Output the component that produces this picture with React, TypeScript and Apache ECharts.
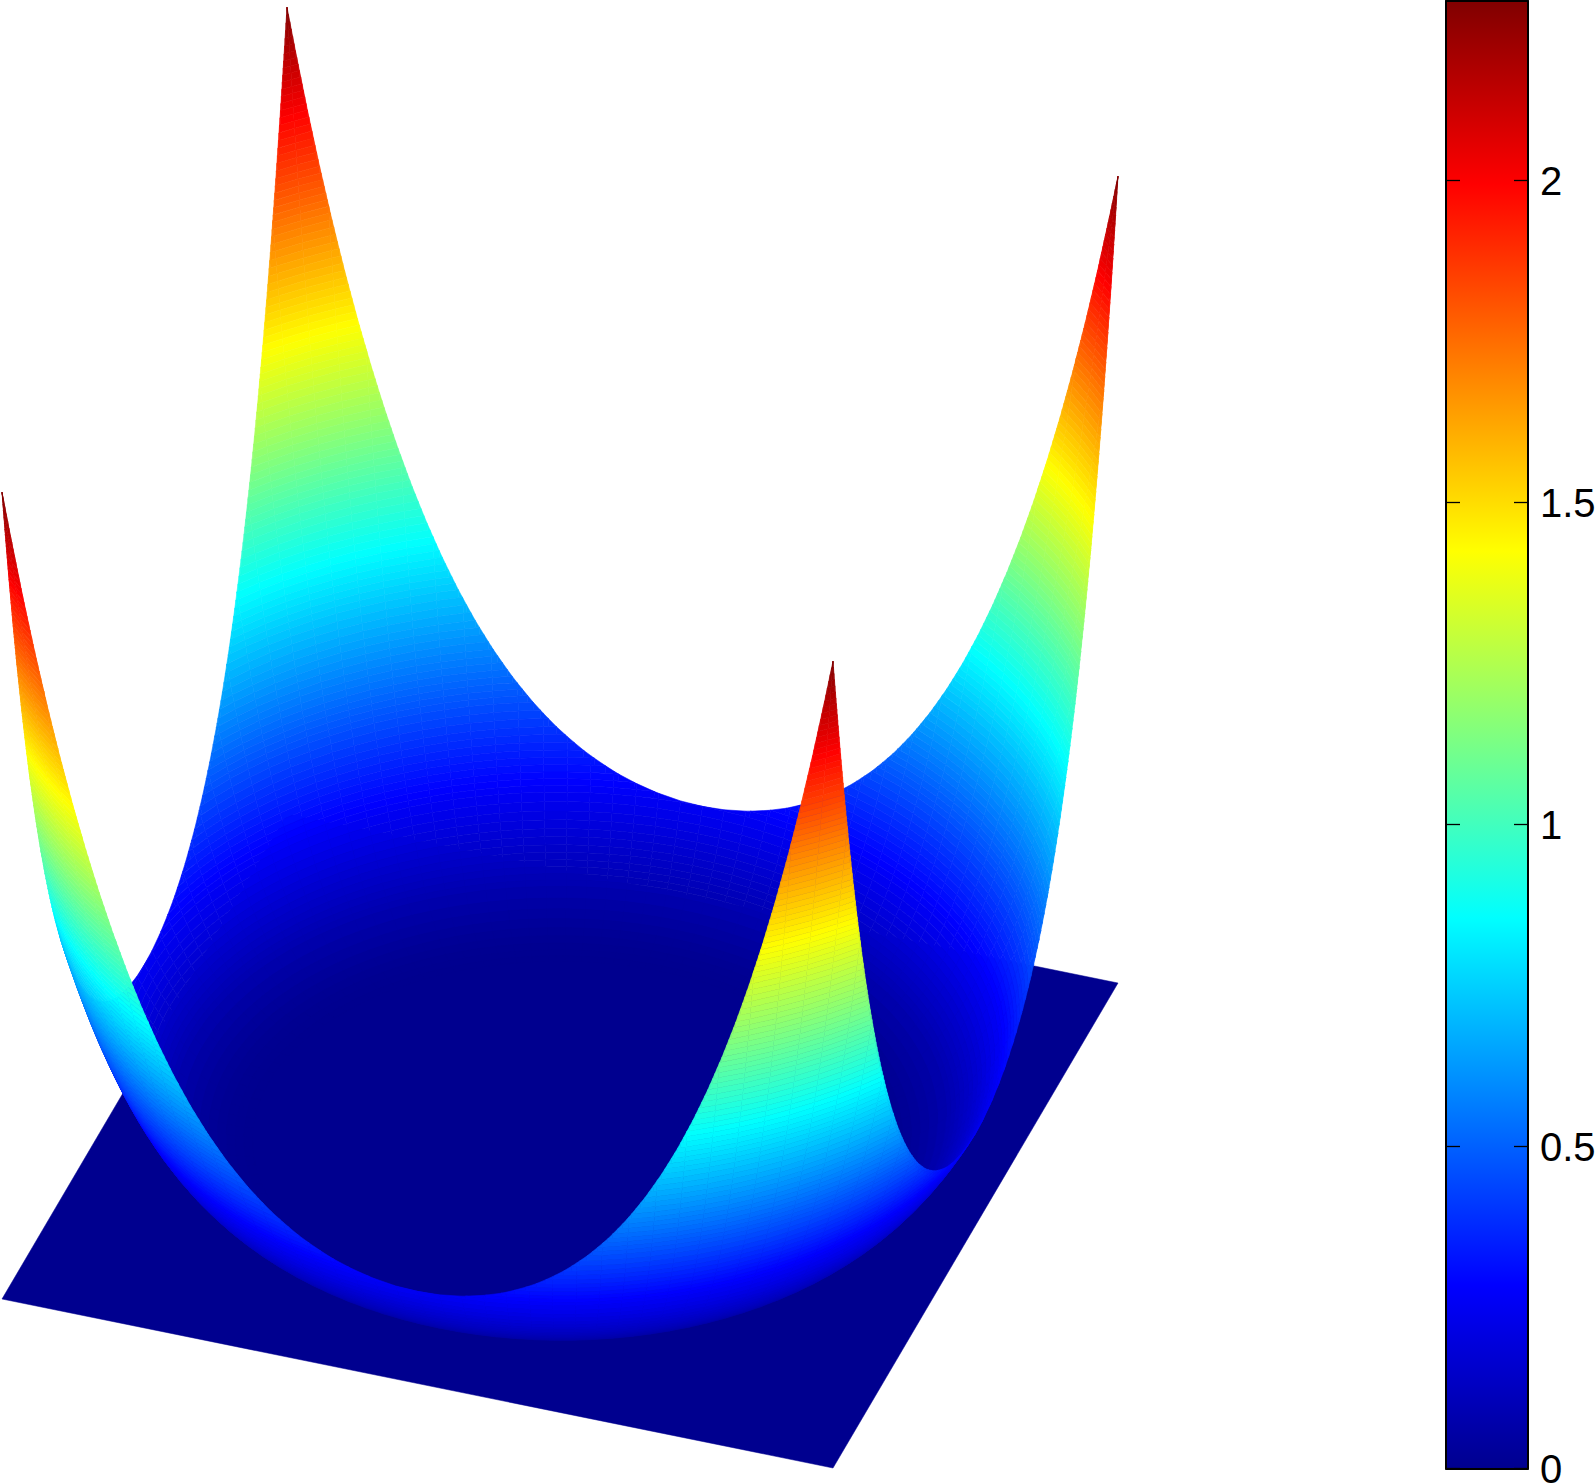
import React, { useEffect, useRef } from "react";
import * as echarts from "echarts";

const radii = [0.7, 0.72, 0.74, 0.76, 0.78, 0.8, 0.82, 0.84, 0.86, 0.88, 0.9, 0.92, 0.94, 0.96, 0.98, 1.0, 1.02, 1.04, 1.06, 1.08, 1.1, 1.12, 1.14, 1.16, 1.18, 1.2, 1.22, 1.24, 1.26, 1.28, 1.3, 1.32, 1.34, 1.36, 1.38, 1.4, 1.4142];
const heights = [0, 0.0008, 0.0033, 0.0077, 0.014, 0.0225, 0.0333, 0.0465, 0.0623, 0.0809, 0.1024, 0.127, 0.1549, 0.1863, 0.2213, 0.2601, 0.3029, 0.35, 0.4014, 0.4575, 0.5184, 0.5843, 0.6555, 0.7321, 0.8143, 0.9025, 0.9968, 1.0975, 1.2047, 1.3188, 1.44, 1.5685, 1.7046, 1.8485, 2.0005, 2.1609, 2.279];

const colorMax = 2.279;
const barTicks = [0, 0.5, 1, 1.5, 2];
const jetStops: [number, number[]][] = [
  [0, [0, 0, 143]],
  [0.125, [0, 0, 255]],
  [0.375, [0, 255, 255]],
  [0.625, [255, 255, 0]],
  [0.875, [255, 0, 0]],
  [1, [128, 0, 0]],
];

function jet(t: number): string {
  const v = Math.max(0, Math.min(1, t));
  for (let i = 1; i < jetStops.length; i++) {
    if (v <= jetStops[i][0]) {
      const [a, ca] = jetStops[i - 1];
      const [b, cb] = jetStops[i];
      const f = (v - a) / (b - a);
      const c = ca.map((x, k) => Math.round(x + (cb[k] - x) * f));
      return `rgb(${c[0]},${c[1]},${c[2]})`;
    }
  }
  return "rgb(128,0,0)";
}

function profile(r: number): number {
  if (r <= radii[0]) return 0;
  for (let i = 1; i < radii.length; i++) {
    if (r <= radii[i]) {
      const f = (r - radii[i - 1]) / (radii[i] - radii[i - 1]);
      return heights[i - 1] + (heights[i] - heights[i - 1]) * f;
    }
  }
  return heights[heights.length - 1];
}

// Oblique view of the 3-D axes
const view = { cx: 560, cy: 1141, xx: 415.5, xy: 84.5, yx: 142.5, yy: -242.5, zy: -354 };
function project(x: number, y: number, z: number): number[] {
  return [view.cx + view.xx * x + view.yx * y, view.cy + view.xy * x + view.yy * y + view.zy * z];
}

const deg = Math.PI / 180;
const rMax = (t: number) => 1 / Math.max(Math.abs(Math.cos(t)), Math.abs(Math.sin(t)));
function pointAt(r: number, t: number): number[] {
  const R = Math.min(r, rMax(t));
  return project(R * Math.cos(t), R * Math.sin(t), profile(R));
}

function ringLevels(): number[] {
  const out: number[] = [radii[0]];
  for (let i = 1; i < radii.length; i++) {
    const n = Math.max(1, Math.ceil((heights[i] - heights[i - 1]) / 0.02));
    for (let k = 1; k <= n; k++) out.push(radii[i - 1] + ((radii[i] - radii[i - 1]) * k) / n);
  }
  return out;
}

function crossings(r: number): number[] {
  if (r <= 1) return [];
  const a = Math.acos(1 / r);
  const out: number[] = [];
  for (const phi of [0, 90, 180, 270, 360]) {
    out.push(phi * deg - a, phi * deg + a);
  }
  return out;
}

type Cell = { pts: number[][]; color: string; order: number };

function buildCells(): Cell[] {
  const levels = ringLevels();
  const cells: Cell[] = [];
  const base: number[] = [];
  for (let a = 0; a <= 360; a += 3) base.push(a * deg);
  for (let i = 0; i + 1 < levels.length; i++) {
    const r1 = levels[i];
    const r2 = levels[i + 1];
    const ts = base
      .concat(crossings(r1), crossings(r2))
      .filter((t) => t >= 0 && t <= 2 * Math.PI + 1e-9)
      .sort((a, b) => a - b);
    for (let j = 0; j + 1 < ts.length; j++) {
      const t1 = ts[j];
      const t2 = ts[j + 1];
      if (t2 - t1 < 1e-7) continue;
      const tm = (t1 + t2) / 2;
      const lim = rMax(tm);
      if (lim <= r1) continue;
      const rm = (r1 + Math.min(r2, lim)) / 2;
      cells.push({
        pts: [pointAt(r1, t1), pointAt(r2, t1), pointAt(r2, t2), pointAt(r1, t2)],
        color: jet(profile(rm) / colorMax),
        order: rm * Math.cos(tm) - 2.916 * rm * Math.sin(tm),
      });
    }
  }
  cells.sort((a, b) => a.order - b.order);
  return cells;
}

const FONT = "'Liberation Sans', Arial, sans-serif";

export default function App() {
  const ref = useRef<HTMLDivElement>(null);
  useEffect(() => {
    const chart = echarts.init(ref.current!, undefined, { renderer: "svg" });
    const cells = buildCells();
    const planeCorners = [[-1, -1], [1, -1], [1, 1], [-1, 1]].map(([x, y]) => project(x, y, 0));
    const hiddenAxis = { show: false, splitLine: { show: false } };
    chart.setOption({
      animation: false,
      backgroundColor: "#fff",
      grid: [
        { left: 0, top: 0, width: 1596, height: 1484, outerBoundsMode: "none" },
        { left: 1446, top: 1, width: 82, height: 1467.5, outerBoundsMode: "none" },
      ],
      xAxis: [
        { ...hiddenAxis, type: "value", gridIndex: 0, min: 0, max: 1596 },
        {
          type: "value", gridIndex: 1, min: 0, max: 1, position: "bottom", z: 10,
          axisLine: { show: true, onZero: false, lineStyle: { color: "#000", width: 2 } },
          axisTick: { show: false }, axisLabel: { show: false }, splitLine: { show: false },
        },
        {
          type: "value", gridIndex: 1, min: 0, max: 1, position: "top", z: 10,
          axisLine: { show: true, onZero: false, lineStyle: { color: "#000", width: 2 } },
          axisTick: { show: false }, axisLabel: { show: false }, splitLine: { show: false },
        },
      ],
      yAxis: [
        { ...hiddenAxis, type: "value", gridIndex: 0, min: 0, max: 1484, inverse: true },
        {
          type: "value", gridIndex: 1, min: 0, max: colorMax, position: "right", z: 10,
          axisLine: { show: true, onZero: false, lineStyle: { color: "#000", width: 2 } },
          axisTick: { show: true, inside: true, length: 14, customValues: barTicks, lineStyle: { color: "#000", width: 1.3 } },
          axisLabel: {
            show: true, customValues: barTicks, margin: 12, color: "#000",
            fontFamily: FONT, fontSize: 40, lineHeight: 30, formatter: (v: number) => String(v),
          },
          splitLine: { show: false },
        },
        {
          type: "value", gridIndex: 1, min: 0, max: colorMax, position: "left", z: 10,
          axisLine: { show: true, onZero: false, lineStyle: { color: "#000", width: 2 } },
          axisTick: { show: true, inside: true, length: 14, customValues: barTicks, lineStyle: { color: "#000", width: 1.3 } },
          axisLabel: { show: false }, splitLine: { show: false },
        },
      ],
      series: [
        {
          type: "custom", xAxisIndex: 0, yAxisIndex: 0, silent: true, clip: false, z: 2,
          data: [[560, 1140]],
          renderItem: (_p: any, api: any) => ({
            type: "polygon",
            shape: { points: planeCorners.map((c) => api.coord(c)) },
            style: { fill: jet(0), stroke: jet(0), lineWidth: 0.5 },
          }),
        },
        {
          type: "custom", xAxisIndex: 0, yAxisIndex: 0, silent: true, clip: false, z: 3,
          progressive: 0,
          data: cells.map((c) => c.pts[0]),
          renderItem: (p: any, api: any) => {
            const c = cells[p.dataIndex];
            return {
              type: "polygon",
              shape: { points: c.pts.map((q) => api.coord(q)) },
              style: { fill: c.color, stroke: c.color, lineWidth: 0.6 },
            };
          },
        },
        {
          type: "custom", xAxisIndex: 1, yAxisIndex: 1, silent: true, clip: false, z: 3,
          data: [[0, 0]],
          renderItem: (_p: any, api: any) => {
            const a = api.coord([0, colorMax]);
            const b = api.coord([1, 0]);
            return {
              type: "rect",
              shape: { x: a[0], y: a[1], width: b[0] - a[0], height: b[1] - a[1] },
              style: {
                fill: new echarts.graphic.LinearGradient(
                  0, 1, 0, 0,
                  jetStops.map(([offset, c]) => ({ offset, color: `rgb(${c[0]},${c[1]},${c[2]})` }))
                ),
              },
            };
          },
        },
      ],
    });
    return () => chart.dispose();
  }, []);
  return <div ref={ref} style={{ position: "absolute", left: 0, top: 0, width: 1596, height: 1484 }} />;
}
